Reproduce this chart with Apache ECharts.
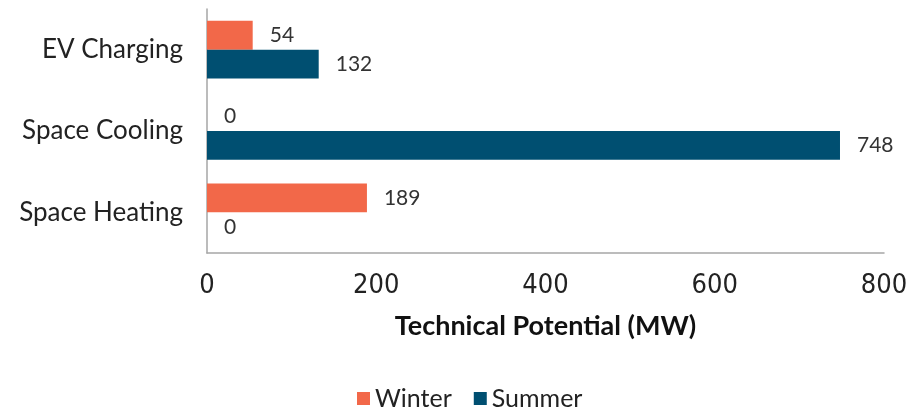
<!DOCTYPE html>
<html>
<head>
<meta charset="utf-8">
<script src="https://cdn.jsdelivr.net/npm/echarts@6/dist/echarts.min.js"></script>
<style>
  html, body { margin: 0; padding: 0; background: #fff; }
  #chart { width: 914px; height: 410px; }
</style>
</head>
<body>
<div id="chart"></div>
<script>
var categories = ['EV Charging', 'Space Cooling', 'Space Heating']
var winter = [54, 0, 189]
var summer = [132, 748, 0]
var xTicks = [0, 200, 400, 600, 800]

var chart = echarts.init(document.getElementById('chart'))

var labelStyle = {
  show: true,
  position: 'right',
  distance: 17,
  color: '#333',
  fontFamily: 'Lato',
  fontSize: 21
}

chart.setOption({
  animation: false,
  textStyle: { fontFamily: 'Lato' },
  grid: { left: 207, right: 30, top: 9, bottom: 157 },
  legend: {
    top: 381,
    left: 352,
    itemWidth: 13,
    itemHeight: 13,
    itemGap: 22,
    icon: 'rect',
    textStyle: { fontSize: 25, color: '#222', fontFamily: 'Lato' },
    data: ['Winter', 'Summer']
  },
  xAxis: {
    type: 'value',
    min: xTicks[0],
    max: xTicks[xTicks.length - 1],
    interval: 200,
    splitLine: { show: false },
    axisTick: { show: false },
    axisLine: { show: true, lineStyle: { color: '#a6a6a6', width: 1.5 } },
    axisLabel: {
      color: '#222',
      fontSize: 27,
      margin: 19,
      fontFamily: '"Liberation Sans Narrow", "DejaVu Sans Condensed", sans-serif'
    },
    name: 'Technical Potential (MW)',
    nameLocation: 'middle',
    nameGap: 60,
    nameTextStyle: { fontSize: 27, fontWeight: 'bold', color: '#111', fontFamily: 'Lato' }
  },
  yAxis: {
    type: 'category',
    inverse: true,
    data: categories,
    axisTick: { show: false },
    axisLine: { show: true, lineStyle: { color: '#a6a6a6', width: 1.5 } },
    axisLabel: { color: '#222', fontSize: 26, margin: 24 }
  },
  series: [
    {
      name: 'Winter',
      type: 'bar',
      data: winter,
      barGap: '0%',
      barCategoryGap: '29%',
      itemStyle: { color: '#f26849' },
      label: labelStyle
    },
    {
      name: 'Summer',
      type: 'bar',
      data: summer,
      barGap: '0%',
      barCategoryGap: '29%',
      itemStyle: { color: '#004f71' },
      label: labelStyle
    }
  ]
})
</script>
</body>
</html>
